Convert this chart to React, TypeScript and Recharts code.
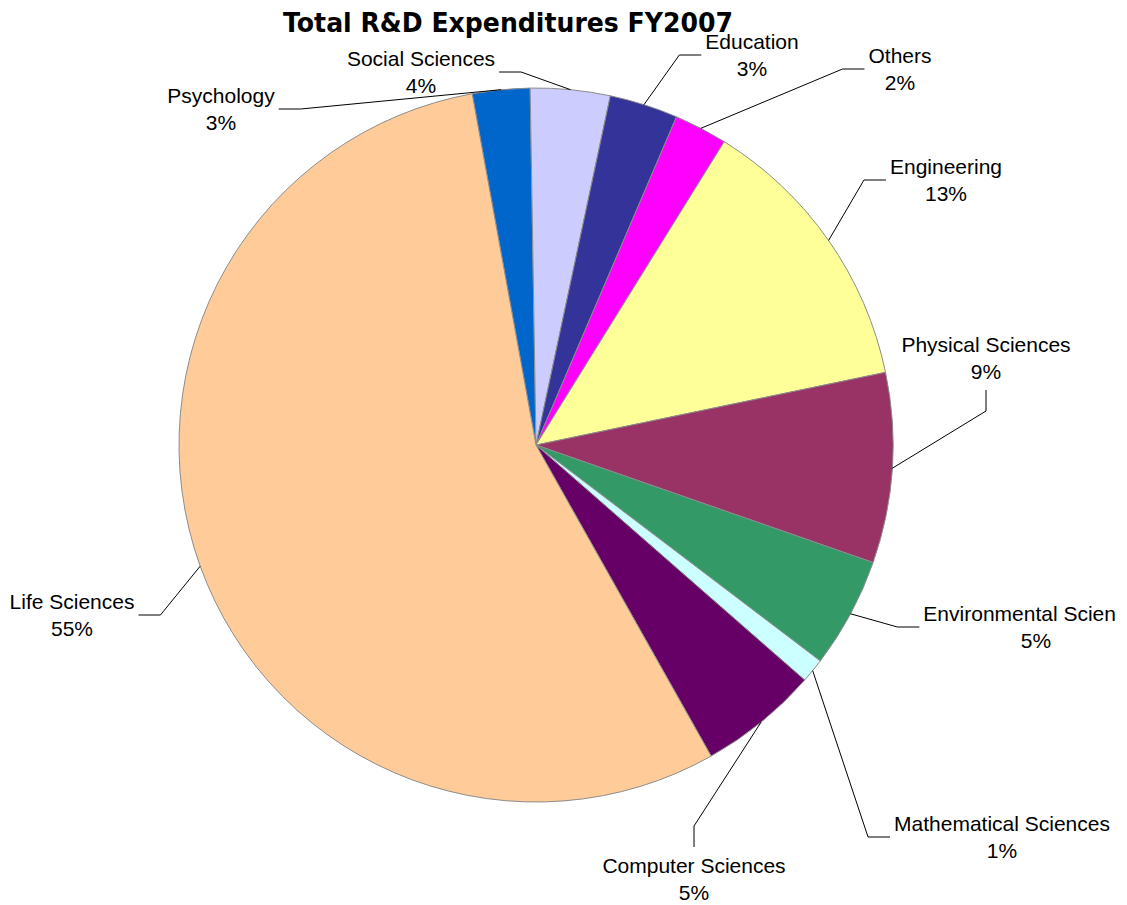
import { PieChart, Pie, Cell } from "recharts";

const categories = [
  "Psychology",
  "Social Sciences",
  "Education",
  "Others",
  "Engineering",
  "Physical Sciences",
  "Environmental Sciences",
  "Mathematical Sciences",
  "Computer Sciences",
  "Life Sciences",
];
const shares = [2.6, 3.6, 3.1, 2.4, 12.9, 8.6, 5.0, 1.1, 5.4, 55.3];
const colors = [
  "#0066CC",
  "#CCCCFF",
  "#333399",
  "#FF00FF",
  "#FFFF99",
  "#993366",
  "#339966",
  "#CCFFFF",
  "#660066",
  "#FFCC99",
];

const data = categories.map((name, i) => ({ name, value: shares[i] }));

const W = 1127;
const H = 905;

// where Excel parked each label, relative to the pie centre
const labelSpots: { dx: number; dy: number; side: "left" | "right" | "top" | "bottom" }[] = [
  { dx: -315, dy: -336, side: "right" },
  { dx: -115, dy: -373, side: "right" },
  { dx: 216, dy: -390, side: "left" },
  { dx: 364, dy: -376, side: "left" },
  { dx: 410, dy: -265, side: "left" },
  { dx: 450, dy: -87, side: "bottom" },
  { dx: 500, dy: 182, side: "left" },
  { dx: 466, dy: 392, side: "left" },
  { dx: 158, dy: 434, side: "top" },
  { dx: -464, dy: 170, side: "right" },
];

const FONT = '"Liberation Sans", Arial, sans-serif';
const FS = 21;
const LINE_H = 27;

let ctx: CanvasRenderingContext2D | null = null;
function textWidth(s: string) {
  if (!ctx) ctx = document.createElement("canvas").getContext("2d");
  if (!ctx) return s.length * FS * 0.5;
  ctx.font = `${FS}px ${FONT}`;
  return ctx.measureText(s).width;
}

function renderLabel(props: any) {
  const { cx, cy, midAngle, outerRadius, index, percent } = props;
  const spot = labelSpots[index];
  const rad = (-midAngle * Math.PI) / 180;
  const sx = cx + outerRadius * Math.cos(rad);
  const sy = cy + outerRadius * Math.sin(rad);
  const tx = cx + spot.dx;
  const ty = cy + spot.dy;
  const name = categories[index];
  const pct = `${Math.round(percent * 100)}%`;
  const w = Math.max(textWidth(name), textWidth(pct));

  // Excel keeps the box where it is and chops the text at the chart edge
  const left = tx - w / 2;
  let shown = name;
  while (shown.length > 1 && left + textWidth(shown) > W - 8) shown = shown.slice(0, -1);
  const chopped = shown !== name;

  let px = tx;
  let py = ty;
  let ex = tx;
  let ey = ty;
  if (spot.side === "left") {
    px = tx - w / 2 - 4;
    ex = px - 22;
  } else if (spot.side === "right") {
    px = tx + w / 2 + 4;
    ex = px + 22;
  } else if (spot.side === "bottom") {
    py = ty + LINE_H + 5;
    ey = py + 21;
  } else {
    py = ty - LINE_H - 5;
    ey = py - 21;
  }
  return (
    <g key={`lbl-${index}`}>
      <polyline
        points={`${sx},${sy} ${ex},${ey} ${px},${py}`}
        fill="none"
        stroke="#000"
        strokeWidth={1}
      />
      <text
        x={chopped ? left : tx}
        y={ty - LINE_H / 2}
        textAnchor={chopped ? "start" : "middle"}
        dominantBaseline="central"
        fontFamily={FONT}
        fontSize={FS}
        fill="#000"
      >
        {shown}
      </text>
      <text x={tx} y={ty + LINE_H / 2} textAnchor="middle" dominantBaseline="central" fontFamily={FONT} fontSize={FS} fill="#000">
        {pct}
      </text>
    </g>
  );
}

export default function App() {
  return (
    <div style={{ position: "absolute", left: 0, top: 0, width: W, height: H, overflow: "hidden", background: "#fff" }}>
      <PieChart width={W} height={H} margin={{ top: 0, right: 0, bottom: 0, left: 0 }}>
        <Pie
          data={data}
          dataKey="value"
          nameKey="name"
          cx={536}
          cy={445}
          outerRadius={357}
          startAngle={100.3}
          endAngle={-259.7}
          stroke="#8c8c8c"
          strokeWidth={1}
          label={renderLabel}
          labelLine={false}
          isAnimationActive={false}
        >
          {data.map((d, i) => (
            <Cell key={d.name} fill={colors[i]} />
          ))}
        </Pie>
      </PieChart>
      <svg width={W} height={60} style={{ position: "absolute", left: 0, top: 0, pointerEvents: "none" }}>
        <text
          x={508}
          y={32}
          textAnchor="middle"
          fontFamily='"DejaVu Sans", sans-serif'
          fontWeight="bold"
          fontSize={27}
          textLength={450}
          lengthAdjust="spacingAndGlyphs"
          fill="#000"
        >
          Total R&amp;D Expenditures FY2007
        </text>
      </svg>
    </div>
  );
}
